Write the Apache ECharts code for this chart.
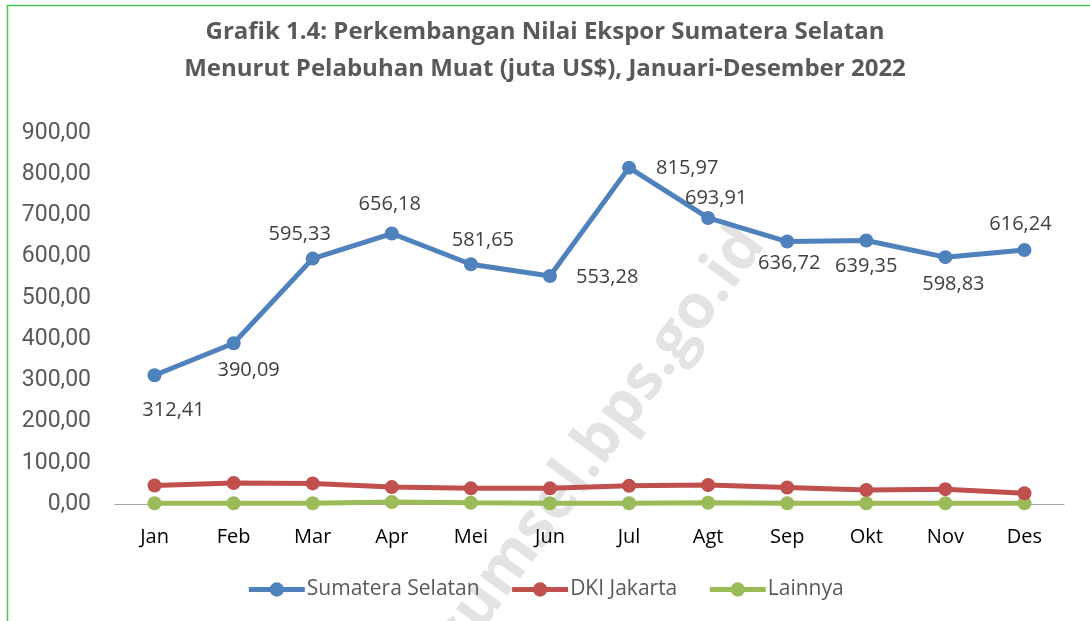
<!DOCTYPE html>
<html>
<head>
<meta charset="utf-8">
<script src="https://cdn.jsdelivr.net/npm/echarts@6/dist/echarts.min.js"></script>
<style>
html,body{margin:0;padding:0;background:#fff;}
#chart{width:1090px;height:621px;}
</style>
</head>
<body>
<div id="chart"></div>
<script>
const categories = ['Jan','Feb','Mar','Apr','Mei','Jun','Jul','Agt','Sep','Okt','Nov','Des'];
const sumateraSelatan = [312.41, 390.09, 595.33, 656.18, 581.65, 553.28, 815.97, 693.91, 636.72, 639.35, 598.83, 616.24];
const dkiJakarta = [45, 51, 50, 41, 38, 38, 44, 46, 40, 34, 36, 26];
const lainnya = [2, 2, 2, 5, 3, 2, 2, 3, 2, 2, 2, 2];
const yTicks = [0, 100, 200, 300, 400, 500, 600, 700, 800, 900];

const fmt = v => v.toFixed(2).replace('.', ',');

// label placement per point (position, offset)
const labelPlace = [
  ['bottom', [19, 10]], ['bottom', [15, 2]], ['top', [-13, 1]], ['top', [-2, -4]],
  ['top', [12, 1]], ['right', [11, 1]], ['right', [12, 1]], ['top', [8, 5]],
  ['bottom', [2, -3]], ['bottom', [0, 1]], ['bottom', [8, 2]], ['top', [-4, -1]]
];

const sumData = sumateraSelatan.map((v, i) => ({
  value: v,
  label: { position: labelPlace[i][0], offset: labelPlace[i][1] }
}));

const chart = echarts.init(document.getElementById('chart'));
chart.setOption({
  animation: false,
  backgroundColor: '#fff',
  title: {
    text: 'Grafik 1.4: Perkembangan Nilai Ekspor Sumatera Selatan\nMenurut Pelabuhan Muat (juta US$), Januari-Desember 2022',
    left: 'center',
    top: 9,
    textStyle: { fontFamily: 'Open Sans', fontWeight: 'bold', fontSize: 24, lineHeight: 37, color: '#595959' }
  },
  graphic: [
    { type: 'rect', z: -10, shape: { x: 7.5, y: 5.5, width: 1100, height: 700 }, style: { fill: 'none', stroke: '#4CC24C', lineWidth: 1.5 } },
    { type: 'text', z: -5, x: 752, y: 234, rotation: 0.936,
      style: { text: 'https://sumsel.bps.go.id', fontFamily: 'Open Sans', fontWeight: 'bold', fontSize: 62,
        fill: 'rgba(200,200,200,0.5)', align: 'right', verticalAlign: 'middle' } }
  ],
  grid: { left: 115, right: 26, top: 133, bottom: 117 },
  legend: {
    bottom: 16,
    left: 'center',
    itemWidth: 56,
    itemHeight: 18,
    itemGap: 30,
    textStyle: { fontFamily: 'Open Sans', fontSize: 21, color: '#595959', padding: [0, 0, 0, -3] },
    lineStyle: { width: 5 },
    data: ['Sumatera Selatan', 'DKI Jakarta', 'Lainnya']
  },
  xAxis: {
    type: 'category',
    data: categories,
    boundaryGap: true,
    axisLine: { lineStyle: { color: '#A6A6A6', width: 1 } },
    axisTick: { show: false },
    axisLabel: { margin: 23, fontFamily: 'Open Sans', fontSize: 20, color: '#000' }
  },
  yAxis: {
    type: 'value',
    min: 0, max: 900, interval: 100,
    axisLine: { show: false },
    axisTick: { show: false },
    splitLine: { show: false },
    axisLabel: { margin: 24, fontFamily: 'Liberation Sans Narrow, Arial Narrow, Roboto, sans-serif', fontSize: 23, color: '#595959',
      formatter: v => yTicks.includes(v) ? fmt(v) : '' }
  },
  series: [
    {
      name: 'Sumatera Selatan', type: 'line', data: sumData,
      symbol: 'circle', symbolSize: 14, z: 5,
      lineStyle: { width: 5, color: '#4F81BD' }, itemStyle: { color: '#4F81BD' },
      label: { show: true, fontFamily: 'Open Sans', fontSize: 20, color: '#404040', distance: 8, formatter: p => fmt(p.value) }
    },
    {
      name: 'DKI Jakarta', type: 'line', data: dkiJakarta,
      symbol: 'circle', symbolSize: 14, z: 4,
      lineStyle: { width: 5, color: '#C0504D' }, itemStyle: { color: '#C0504D' }
    },
    {
      name: 'Lainnya', type: 'line', data: lainnya,
      symbol: 'circle', symbolSize: 14, z: 3,
      lineStyle: { width: 5, color: '#9BBB59' }, itemStyle: { color: '#9BBB59' }
    }
  ]
});
</script>
</body>
</html>
